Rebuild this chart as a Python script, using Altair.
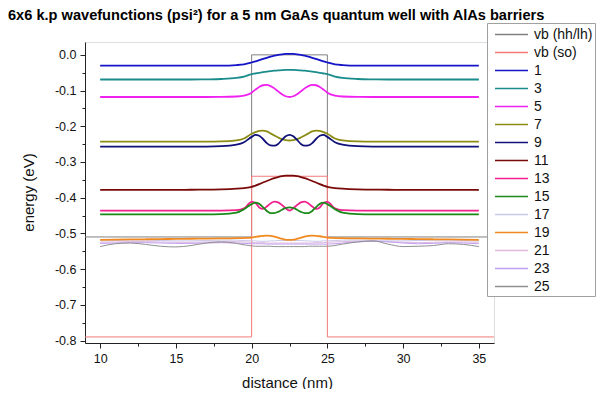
import altair as alt
import pandas as pd

# ---------------- data ----------------
series_names = ["vb (hh/lh)", "vb (so)", "1", "3", "5", "7", "9", "11", "13",
                "15", "17", "19", "21", "23", "25"]
series_colors = ["#808080", "#f47a7a", "#1414c8", "#1a8c8c", "#f020f0", "#8c8c14",
                 "#10107a", "#7a0a0a", "#f0208c", "#1a8a1a", "#c8c8e8", "#f08a20",
                 "#e0b8e0", "#c0a0f0", "#909090"]

# band edges (valence band potentials)
x_vb = [9, 20, 20, 25, 25, 36]
vb_hh = [-0.51, -0.51, 0.0, 0.0, -0.51, -0.51]
vb_so = [-0.79, -0.79, -0.34, -0.34, -0.79, -0.79]

# common distance grid of the wavefunctions (nm)
x_wf = [10, 11, 12, 13, 14, 15, 16, 17, 18, 19, 19.5,
        20, 20.25, 20.5, 20.75, 21, 21.25, 21.5, 21.75, 22, 22.25, 22.5,
        22.75, 23, 23.25, 23.5, 23.75, 24, 24.25, 24.5, 24.75, 25,
        25.5, 26, 27, 28, 29, 30, 31, 32, 33, 34, 35]

wf_1 = [-0.030, -0.030, -0.030, -0.030, -0.030, -0.030, -0.030, -0.030, -0.030, -0.0286, -0.0266,
        -0.0214, -0.0183, -0.0149, -0.0115, -0.0082, -0.0051, -0.0023, -0.0001, 0.0016, 0.0026, 0.0030,
        0.0026, 0.0016, -0.0001, -0.0023, -0.0051, -0.0082, -0.0115, -0.0149, -0.0183, -0.0214,
        -0.0266, -0.0286, -0.030, -0.030, -0.030, -0.030, -0.030, -0.030, -0.030, -0.030, -0.030]
wf_3 = [-0.069, -0.069, -0.069, -0.069, -0.069, -0.069, -0.069, -0.0686, -0.0676, -0.0645, -0.0608,
        -0.0541, -0.0522, -0.0503, -0.0485, -0.0469, -0.0455, -0.0443, -0.0433, -0.0426, -0.0421, -0.0420,
        -0.0421, -0.0426, -0.0433, -0.0443, -0.0455, -0.0469, -0.0485, -0.0503, -0.0522, -0.0541,
        -0.0608, -0.0645, -0.0676, -0.0686, -0.069, -0.069, -0.069, -0.069, -0.069, -0.069, -0.069]
wf_5 = [-0.118, -0.118, -0.118, -0.118, -0.118, -0.118, -0.118, -0.118, -0.1179, -0.1166, -0.1140,
        -0.1058, -0.0974, -0.0899, -0.0851, -0.0842, -0.0874, -0.0939, -0.1022, -0.1102, -0.1159, -0.1180,
        -0.1159, -0.1102, -0.1022, -0.0939, -0.0874, -0.0842, -0.0851, -0.0899, -0.0974, -0.1058,
        -0.1140, -0.1166, -0.1179, -0.118, -0.118, -0.118, -0.118, -0.118, -0.118, -0.118, -0.118]
wf_7 = [-0.243, -0.243, -0.243, -0.243, -0.243, -0.243, -0.243, -0.243, -0.2425, -0.2396, -0.2343,
        -0.2210, -0.2163, -0.2130, -0.2120, -0.2145, -0.2198, -0.2260, -0.2315, -0.2362, -0.2390, -0.2399,
        -0.2390, -0.2362, -0.2315, -0.2260, -0.2198, -0.2145, -0.2120, -0.2130, -0.2163, -0.2210,
        -0.2343, -0.2396, -0.2425, -0.243, -0.243, -0.243, -0.243, -0.243, -0.243, -0.243, -0.243]
wf_9 = [-0.257, -0.257, -0.257, -0.257, -0.257, -0.257, -0.257, -0.2568, -0.2559, -0.2515, -0.2447,
        -0.2297, -0.2242, -0.2265, -0.2357, -0.2473, -0.2537, -0.2544, -0.2495, -0.2382, -0.2280, -0.2240,
        -0.2280, -0.2382, -0.2495, -0.2544, -0.2537, -0.2473, -0.2357, -0.2265, -0.2242, -0.2297,
        -0.2447, -0.2515, -0.2559, -0.2568, -0.257, -0.257, -0.257, -0.257, -0.257, -0.257, -0.257]
wf_11 = [-0.378, -0.378, -0.378, -0.378, -0.378, -0.378, -0.3778, -0.3775, -0.3768, -0.3748, -0.3730,
         -0.3700, -0.3662, -0.3620, -0.3576, -0.3532, -0.3491, -0.3454, -0.3423, -0.3399, -0.3385, -0.3380,
         -0.3385, -0.3399, -0.3423, -0.3454, -0.3491, -0.3532, -0.3576, -0.3620, -0.3662, -0.3700,
         -0.3730, -0.3748, -0.3768, -0.3775, -0.3778, -0.378, -0.378, -0.378, -0.378, -0.378, -0.378]
wf_13 = [-0.436, -0.436, -0.436, -0.436, -0.436, -0.436, -0.436, -0.436, -0.436, -0.4350, -0.4298,
         -0.4118, -0.4148, -0.4273, -0.4315, -0.4248, -0.4160, -0.4110, -0.4130, -0.4205, -0.4298, -0.4360,
         -0.4298, -0.4205, -0.4130, -0.4110, -0.4160, -0.4248, -0.4315, -0.4273, -0.4148, -0.4118,
         -0.4298, -0.4350, -0.436, -0.436, -0.436, -0.436, -0.436, -0.436, -0.436, -0.436, -0.436]
wf_15 = [-0.447, -0.447, -0.447, -0.447, -0.447, -0.447, -0.447, -0.447, -0.4463, -0.4420, -0.4322,
         -0.4180, -0.4140, -0.4173, -0.4265, -0.4371, -0.4430, -0.4430, -0.4397, -0.4338, -0.4289, -0.4272,
         -0.4289, -0.4338, -0.4397, -0.4430, -0.4430, -0.4371, -0.4265, -0.4173, -0.4140, -0.4180,
         -0.4322, -0.4420, -0.4463, -0.447, -0.447, -0.447, -0.447, -0.447, -0.447, -0.447, -0.447]
wf_17 = [-0.521, -0.520, -0.519, -0.519, -0.520, -0.521, -0.521, -0.520, -0.519, -0.519, -0.520,
         -0.521, -0.521, -0.522, -0.522, -0.522, -0.521, -0.521, -0.520, -0.520, -0.520, -0.520,
         -0.520, -0.520, -0.520, -0.521, -0.521, -0.522, -0.522, -0.522, -0.521, -0.521,
         -0.520, -0.519, -0.519, -0.520, -0.521, -0.521, -0.520, -0.519, -0.519, -0.520, -0.521]
wf_19 = [-0.518, -0.5175, -0.517, -0.5165, -0.516, -0.5155, -0.515, -0.5145, -0.514, -0.5135, -0.513,
         -0.512, -0.510, -0.508, -0.507, -0.5065, -0.507, -0.509, -0.512, -0.515, -0.5175, -0.518,
         -0.5175, -0.515, -0.512, -0.509, -0.507, -0.5065, -0.507, -0.508, -0.510, -0.512,
         -0.513, -0.5135, -0.514, -0.5145, -0.515, -0.5155, -0.516, -0.5165, -0.517, -0.5175, -0.518]
wf_21 = [-0.525, -0.524, -0.523, -0.523, -0.524, -0.525, -0.525, -0.524, -0.523, -0.523, -0.524,
         -0.525, -0.526, -0.526, -0.526, -0.527, -0.527, -0.527, -0.527, -0.527, -0.527, -0.527,
         -0.527, -0.527, -0.527, -0.527, -0.527, -0.527, -0.526, -0.526, -0.526, -0.525,
         -0.524, -0.523, -0.522, -0.522, -0.523, -0.525, -0.526, -0.525, -0.524, -0.524, -0.525]
wf_23 = [-0.528, -0.527, -0.526, -0.526, -0.527, -0.528, -0.528, -0.527, -0.526, -0.527, -0.528,
         -0.529, -0.529, -0.529, -0.529, -0.530, -0.530, -0.530, -0.530, -0.530, -0.530, -0.530,
         -0.530, -0.530, -0.530, -0.530, -0.530, -0.530, -0.530, -0.530, -0.530, -0.530,
         -0.529, -0.527, -0.524, -0.522, -0.524, -0.527, -0.529, -0.528, -0.526, -0.527, -0.529]
wf_25 = [-0.537, -0.529, -0.527, -0.531, -0.536, -0.538, -0.534, -0.527, -0.524, -0.528, -0.532,
         -0.535, -0.536, -0.536, -0.536, -0.536, -0.536, -0.537, -0.537, -0.537, -0.537, -0.537,
         -0.537, -0.537, -0.537, -0.537, -0.536, -0.536, -0.536, -0.536, -0.536, -0.536,
         -0.534, -0.530, -0.524, -0.521, -0.530, -0.537, -0.536, -0.534, -0.529, -0.531, -0.537]

x_ticks = [10, 12.5, 15, 17.5, 20, 22.5, 25, 27.5, 30, 32.5, 35]
y_ticks = [-0.8, -0.75, -0.7, -0.65, -0.6, -0.55, -0.5, -0.45, -0.4, -0.35, -0.3,
           -0.25, -0.2, -0.15, -0.1, -0.05, 0.0]

# ---------------- tables ----------------
def long_table(pairs, xs):
    rows = []
    for name, ys in pairs:
        for i, (xv, yv) in enumerate(zip(xs, ys)):
            rows.append({"x": xv, "y": yv, "s": name, "o": i})
    return pd.DataFrame(rows)

vb_df = long_table([("vb (hh/lh)", vb_hh), ("vb (so)", vb_so)], x_vb)
thick_df = long_table([("1", wf_1), ("3", wf_3), ("5", wf_5), ("7", wf_7), ("9", wf_9),
                       ("11", wf_11), ("13", wf_13), ("15", wf_15), ("19", wf_19)], x_wf)
thin_df = long_table([("17", wf_17), ("21", wf_21), ("23", wf_23), ("25", wf_25)], x_wf)

FONT = "Liberation Sans"

x_axis = alt.Axis(
    values=x_ticks, title="distance (nm)", grid=False,
    labelExpr="datum.value % 5 === 0 ? datum.label : ''",
    tickSize={"condition": {"test": "datum.value % 5 === 0", "value": 5}, "value": 3},
    labelOverlap=False, labelFont=FONT, labelFontSize=12.5, labelColor="#111",
    titleFont=FONT, titleFontSize=15, titleFontWeight="normal", titleColor="#111",
    titleX=202, titleY=44, titleBaseline="alphabetic", titleAlign="center",
    domainColor="#222", tickColor="#222", labelPadding=4,
)
y_axis = alt.Axis(
    values=y_ticks, title="energy (eV)", grid=False,
    labelExpr="abs(datum.value*10 - round(datum.value*10)) < 0.01 ? replace(format(datum.value, '.1f'), '\u2212', '-') : ''",
    tickSize={"condition": {"test": "abs(datum.value*10 - round(datum.value*10)) < 0.01", "value": 5}, "value": 3},
    labelOverlap=False, labelFont=FONT, labelFontSize=12.5, labelColor="#111",
    titleFont=FONT, titleFontSize=15, titleFontWeight="normal", titleColor="#111",
    titleX=-57, titleY=150, titleAngle=270, titleAlign="center", titleBaseline="middle",
    domainColor="#222", tickColor="#222", labelPadding=4,
)
x_scale = alt.Scale(domain=[9, 36], nice=False, zero=False)
y_scale = alt.Scale(domain=[-0.807, 0.036], nice=False, zero=False)
legend = alt.Legend(
    title=None, orient="none", legendX=402, legendY=-19,
    fillColor="white", strokeColor="#a0a0a0", padding=2, titlePadding=0,
    labelFont=FONT, labelFontSize=14, labelColor="#111", labelLimit=200,
    symbolType="M-2,0H2", symbolSize=272, symbolStrokeWidth=1.6,
    symbolOffset=13, labelOffset=13, rowPadding=1.0,
)
color = alt.Color("s:N", scale=alt.Scale(domain=series_names, range=series_colors), legend=legend)


def layer(df, width, interp):
    return alt.Chart(df).mark_line(strokeWidth=width, interpolate=interp).encode(
        x=alt.X("x:Q", scale=x_scale, axis=x_axis),
        y=alt.Y("y:Q", scale=y_scale, axis=y_axis),
        color=color,
        order="o:Q",
    )


chart = alt.layer(
    layer(vb_df, 1, "linear"),
    layer(thin_df, 1, "monotone"),
    layer(thick_df, 1.8, "monotone"),
).properties(
    width=409, height=301,
    autosize=alt.AutoSizeParams(type="none"),
    padding={"left": 77, "top": 34, "right": 104, "bottom": 46},
    title=alt.TitleParams(
        "6x6 k.p wavefunctions (psi\u00b2) for a 5 nm GaAs quantum well with AlAs barriers",
        anchor="start", font=FONT, fontSize=14.6, fontWeight="bold", color="#000",
        dx=-77, dy=18, offset=6, baseline="alphabetic", frame="group",
    ),
).configure_view(stroke=None).configure(background="white")

chart.save("out.html", embed_options={"renderer": "svg", "actions": False})
